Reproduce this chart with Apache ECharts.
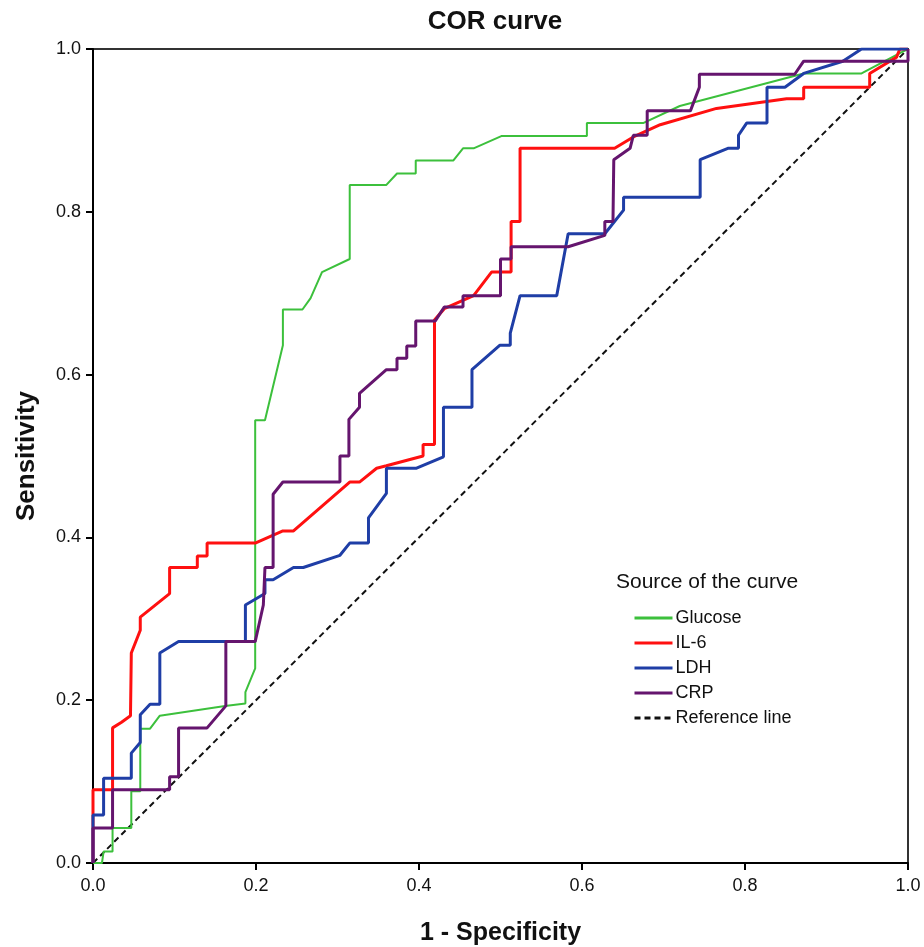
<!DOCTYPE html>
<html>
<head>
<meta charset="utf-8">
<script src="https://cdn.jsdelivr.net/npm/echarts@6/dist/echarts.min.js"></script>
<style>
  html, body { margin: 0; padding: 0; background: #fff; }
  #chart { width: 924px; height: 947px; }
</style>
</head>
<body>
<div id="chart"></div>
<script>
// ROC points [1 - specificity, sensitivity]
var glucose = [[0,0],[0.011,0],[0.013,0.014],[0.024,0.014],[0.024,0.043],[0.047,0.043],[0.047,0.088],[0.058,0.088],[0.058,0.165],[0.07,0.165],[0.082,0.181],[0.162,0.193],[0.187,0.196],[0.187,0.21],[0.199,0.239],[0.199,0.544],[0.211,0.544],[0.233,0.636],[0.233,0.68],[0.257,0.68],[0.267,0.694],[0.281,0.726],[0.315,0.742],[0.315,0.833],[0.36,0.833],[0.373,0.847],[0.396,0.847],[0.396,0.863],[0.442,0.863],[0.454,0.878],[0.467,0.878],[0.501,0.893],[0.606,0.893],[0.606,0.909],[0.675,0.909],[0.72,0.93],[0.872,0.97],[0.943,0.97],[0.99,0.995],[1,1]];
var il6 = [[0,0],[0,0.09],[0.024,0.09],[0.024,0.166],[0.035,0.173],[0.046,0.181],[0.047,0.258],[0.058,0.286],[0.058,0.302],[0.094,0.331],[0.094,0.363],[0.128,0.363],[0.128,0.377],[0.14,0.377],[0.14,0.393],[0.199,0.393],[0.233,0.408],[0.246,0.408],[0.315,0.468],[0.327,0.468],[0.348,0.485],[0.36,0.488],[0.405,0.5],[0.405,0.514],[0.419,0.514],[0.419,0.667],[0.431,0.681],[0.467,0.697],[0.489,0.726],[0.513,0.726],[0.513,0.788],[0.524,0.788],[0.524,0.878],[0.64,0.878],[0.663,0.892],[0.696,0.907],[0.765,0.927],[0.851,0.939],[0.872,0.939],[0.872,0.953],[0.953,0.953],[0.953,0.97],[0.986,0.99],[0.99,1],[1,1]];
var ldh = [[0,0],[0,0.059],[0.013,0.059],[0.013,0.104],[0.047,0.104],[0.047,0.135],[0.058,0.148],[0.058,0.182],[0.07,0.195],[0.082,0.195],[0.082,0.258],[0.105,0.272],[0.187,0.272],[0.187,0.317],[0.211,0.331],[0.211,0.348],[0.221,0.348],[0.246,0.363],[0.258,0.363],[0.303,0.378],[0.315,0.393],[0.338,0.393],[0.338,0.424],[0.36,0.454],[0.36,0.485],[0.397,0.485],[0.43,0.499],[0.43,0.56],[0.465,0.56],[0.465,0.606],[0.499,0.636],[0.512,0.636],[0.512,0.651],[0.524,0.697],[0.569,0.697],[0.583,0.773],[0.628,0.773],[0.651,0.802],[0.651,0.818],[0.745,0.818],[0.745,0.864],[0.779,0.878],[0.792,0.878],[0.792,0.894],[0.802,0.909],[0.827,0.909],[0.827,0.953],[0.849,0.953],[0.872,0.97],[0.92,0.985],[0.943,1],[1,1]];
var crp = [[0,0],[0,0.043],[0.024,0.043],[0.024,0.09],[0.094,0.09],[0.094,0.106],[0.105,0.106],[0.105,0.166],[0.14,0.166],[0.163,0.193],[0.163,0.272],[0.199,0.272],[0.209,0.317],[0.211,0.363],[0.221,0.363],[0.221,0.453],[0.233,0.468],[0.303,0.468],[0.303,0.5],[0.314,0.5],[0.314,0.545],[0.327,0.56],[0.327,0.577],[0.36,0.606],[0.373,0.606],[0.373,0.62],[0.385,0.62],[0.385,0.635],[0.396,0.635],[0.396,0.666],[0.42,0.666],[0.431,0.683],[0.454,0.683],[0.454,0.697],[0.5,0.697],[0.5,0.742],[0.513,0.742],[0.513,0.757],[0.583,0.757],[0.628,0.771],[0.628,0.788],[0.638,0.788],[0.639,0.864],[0.659,0.878],[0.663,0.894],[0.68,0.894],[0.68,0.924],[0.733,0.924],[0.744,0.953],[0.744,0.969],[0.861,0.969],[0.872,0.985],[1,0.985],[1,1]];
var refLine = [[0,0],[1,1]];

var names = ['Glucose', 'IL-6', 'LDH', 'CRP', 'Reference line'];
var colors = ['#3cc03c', '#ff1010', '#1f3ea6', '#65156e', '#111'];

var font = 'Arial, "Liberation Sans", sans-serif';

var chart = echarts.init(document.getElementById('chart'));

// 线条
function line(name, data, color, width, z, type) {
  return {
    name: name,
    type: 'line',
    data: data,
    symbol: 'none',
    silent: true,
    z: z,
    lineStyle: { color: color, width: width, type: type || 'solid' },
    itemStyle: { color: color }
  };
}

chart.setOption({
  animation: false,
  backgroundColor: '#fff',
  title: [{
    text: 'COR curve',
    left: 490,
    top: 4,
    textAlign: 'center',
    textStyle: { fontFamily: font, fontSize: 26, fontWeight: 'bold', color: '#111' }
  }, {
    text: 'Source of the curve',
    left: 611,
    top: 567,
    textStyle: { fontFamily: font, fontSize: 21, fontWeight: 'normal', color: '#111' }
  }],
  legend: {
    orient: 'vertical',
    left: 628,
    top: 604,
    itemWidth: 38,
    itemHeight: 14,
    itemGap: 7,
    data: names,
    itemStyle: { opacity: 0 },
    lineStyle: { width: 3 },
    textStyle: { fontFamily: font, fontSize: 18, color: '#111', padding: [0, 0, 0, -2] }
  },
  grid: {
    left: 93, right: 16, top: 49, bottom: 84,
    containLabel: false,
    outerBoundsMode: 'none',
    show: true,
    borderColor: '#333',
    borderWidth: 2
  },
  xAxis: {
    type: 'value',
    min: 0, max: 1, interval: 0.2,
    name: '1 - Specificity',
    nameLocation: 'middle',
    nameGap: 58,
    nameTextStyle: { fontFamily: font, fontSize: 25, fontWeight: 'bold', color: '#111' },
    axisLine: { show: true, lineStyle: { color: '#000', width: 2 } },
    axisTick: { show: true, length: 7, lineStyle: { color: '#000', width: 2 } },
    axisLabel: { fontFamily: font, fontSize: 18, color: '#111', margin: 14,
      formatter: function (v) { return v.toFixed(1); } },
    splitLine: { show: false }
  },
  yAxis: {
    type: 'value',
    min: 0, max: 1, interval: 0.2,
    name: 'Sensitivity',
    nameLocation: 'middle',
    nameGap: 53,
    nameTextStyle: { fontFamily: font, fontSize: 26, fontWeight: 'bold', color: '#111' },
    axisLine: { show: true, lineStyle: { color: '#000', width: 2 } },
    axisTick: { show: true, length: 7, lineStyle: { color: '#000', width: 2 } },
    axisLabel: { fontFamily: font, fontSize: 18, color: '#111', margin: 12,
      formatter: function (v) { return v.toFixed(1); } },
    splitLine: { show: false }
  },
  series: [
    line(names[0], glucose, colors[0], 2, 3),
    line(names[1], il6, colors[1], 3, 4),
    line(names[2], ldh, colors[2], 3, 5),
    line(names[3], crp, colors[3], 3, 6),
    line(names[4], refLine, colors[4], 2, 2, [6, 4])
  ]
});
</script>
</body>
</html>
